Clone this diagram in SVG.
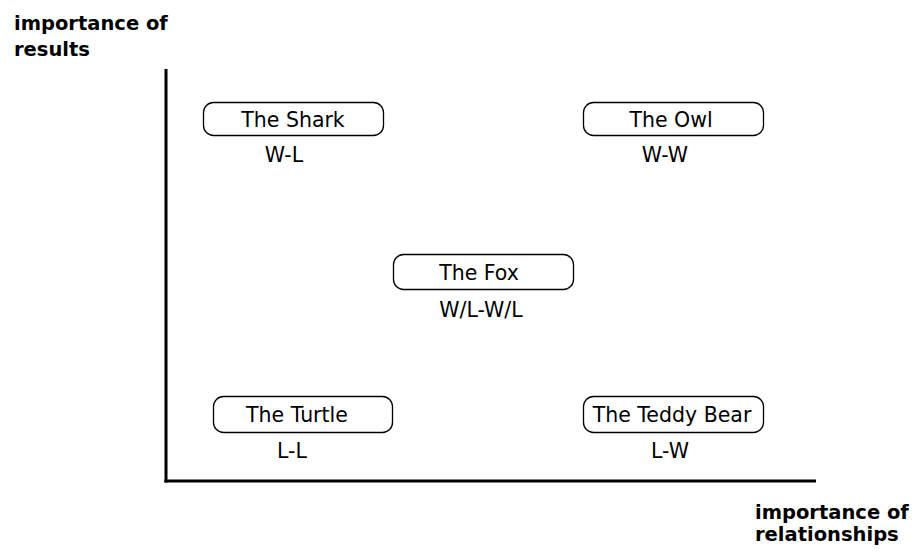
<svg xmlns="http://www.w3.org/2000/svg" width="916" height="552" viewBox="0 0 916 552">
<style>
.axis{stroke:#000;stroke-width:3;fill:none}
.box{fill:#fff;stroke:#000;stroke-width:1.3}
.t{font-family:"DejaVu Sans",Verdana,sans-serif;font-size:20.5px;fill:#000;text-anchor:middle}
.ax{font-family:"DejaVu Sans",Verdana,sans-serif;font-size:19.5px;font-weight:bold;fill:#000}
</style>
<rect width="916" height="552" fill="#fff"/>
<g id="axes">
<line class="axis" x1="166" y1="69" x2="166" y2="482.5"/>
<line class="axis" x1="164.5" y1="481" x2="816" y2="481"/>
</g>
<g id="y-label"><text class="ax" x="14" y="30">importance of</text><text class="ax" x="14" y="56">results</text></g>
<g id="x-label"><text class="ax" x="755" y="519">importance of</text><text class="ax" x="755" y="541">relationships</text></g>
<g id="connectors"></g>
<g id="shark"><rect class="box" x="203.5" y="102.5" width="180" height="33" rx="10"/><text class="t" x="293" y="127">The Shark</text><text class="t" x="284" y="162">W-L</text></g>
<g id="owl"><rect class="box" x="583.5" y="102.5" width="180" height="33" rx="10"/><text class="t" x="671" y="127">The Owl</text><text class="t" x="665" y="162">W-W</text></g>
<g id="fox"><rect class="box" x="393.5" y="254.5" width="180" height="35" rx="10"/><text class="t" x="479" y="280">The Fox</text><text class="t" x="481" y="317">W/L-W/L</text></g>
<g id="turtle"><rect class="box" x="213.5" y="396.5" width="179" height="36" rx="10"/><text class="t" x="297" y="422">The Turtle</text><text class="t" x="292" y="458">L-L</text></g>
<g id="teddy"><rect class="box" x="583.5" y="396.5" width="180" height="36" rx="10"/><text class="t" x="672" y="422">The Teddy Bear</text><text class="t" x="670" y="458">L-W</text></g>
</svg>
